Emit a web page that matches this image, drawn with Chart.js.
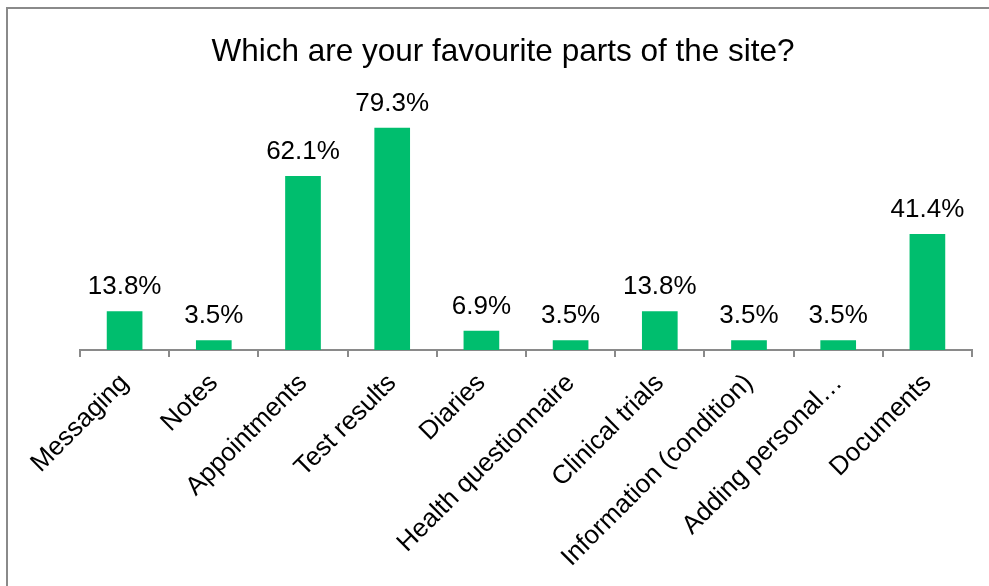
<!DOCTYPE html>
<html>
<head>
<meta charset="utf-8">
<script src="https://cdn.jsdelivr.net/npm/chart.js@4"></script>
<style>
    body { margin: 0; background: #fff; overflow: hidden; }
    #frame {
        position: absolute;
        left: 6px;
        top: 7px;
        width: 1010px;
        height: 600px;
        border: 2px solid #8a8a8a;
        background: #fff;
    }
    #chart { display: block; }
</style>
</head>
<body>
<div id="frame"><canvas id="chart" width="990" height="590"></canvas></div>
<script>
// Chart data
const categories = ['Messaging', 'Notes', 'Appointments', 'Test results', 'Diaries',
    'Health questionnaire', 'Clinical trials', 'Information (condition)', 'Adding personal…', 'Documents'];
const percentages = [13.8, 3.5, 62.1, 79.3, 6.9, 3.5, 13.8, 3.5, 3.5, 41.4];
const titleText = 'Which are your favourite parts of the site?';

const fontFamily = '"Liberation Sans", Arial, sans-serif';

// Draw the value above each bar
const valueLabels = {
    id: 'valueLabels',
    afterDatasetsDraw(chart) {
        const ctx = chart.ctx;
        const meta = chart.getDatasetMeta(0);
        ctx.save();
        ctx.font = '26px ' + fontFamily;
        ctx.fillStyle = '#000';
        ctx.textAlign = 'center';
        ctx.textBaseline = 'alphabetic';
        meta.data.forEach((bar, i) => {
            ctx.fillText(percentages[i].toFixed(1) + '%', bar.x, bar.y - 17);
        });
        ctx.restore();
    }
};

// Invisible axis used only to reserve space at the sides
const spacer = width => ({
    display: true,
    ticks: { display: false },
    grid: { display: false },
    border: { display: false },
    afterFit: scale => { scale.width = width; }
});

const chart = new Chart(document.getElementById('chart').getContext('2d'), {
    type: 'bar',
    data: {
        labels: categories,
        datasets: [{
            data: percentages,
            backgroundColor: '#00BE6E',
            categoryPercentage: 1,
            barPercentage: 0.4
        }]
    },
    options: {
        responsive: false,
        animation: false,
        layout: { padding: 0 },
        plugins: {
            legend: { display: false },
            tooltip: { enabled: false },
            title: {
                display: true,
                text: titleText,
                color: '#000',
                font: { family: fontFamily, size: 31.5, weight: 'normal', lineHeight: 1.2 },
                padding: { top: 24, bottom: 27 }
            }
        },
        scales: {
            x: {
                afterFit: scale => { scale.height = 249; },
                grid: {
                    offset: true,
                    drawOnChartArea: false,
                    color: '#8a8a8a',
                    lineWidth: 2,
                    tickLength: 7
                },
                border: { color: '#8a8a8a', width: 2 },
                ticks: {
                    color: '#000',
                    font: { family: fontFamily, size: 26 },
                    minRotation: 45,
                    maxRotation: 45,
                    autoSkip: false,
                    padding: 11
                }
            },
            y: Object.assign(spacer(72), { position: 'left', min: 0, max: 90 }),
            yRight: Object.assign(spacer(26), { position: 'right' })
        }
    },
    plugins: [valueLabels]
});
</script>
</body>
</html>
